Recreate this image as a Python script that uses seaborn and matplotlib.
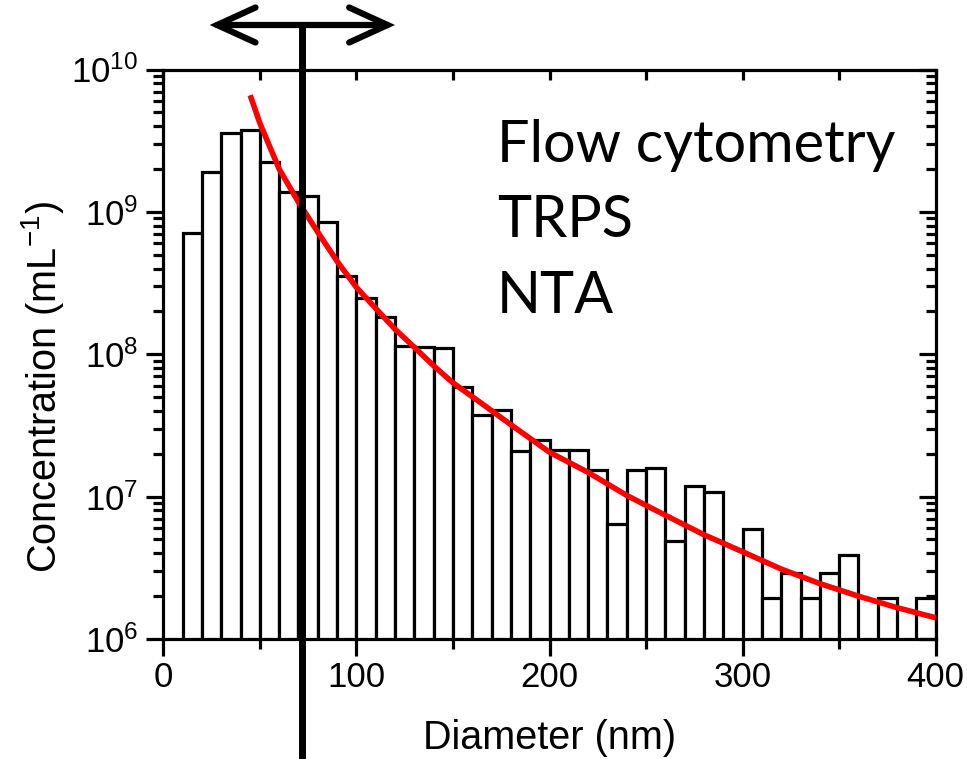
import numpy as np
import pandas as pd
import seaborn as sns
import matplotlib
matplotlib.use("Agg")
import matplotlib.pyplot as plt
import matplotlib.ticker as mticker
import matplotlib.transforms as mtransforms
from matplotlib import font_manager

# ---------------- data ----------------
bin_start = [10, 20, 30, 40, 50, 60, 70, 80, 90, 100, 110, 120, 130, 140,
             150, 160, 170, 180, 190, 200, 210, 220, 230, 240, 250, 260, 270, 280,
             300, 310, 320, 330, 340, 350, 370, 390]
concentration = [7.1e8, 1.9e9, 3.6e9, 3.75e9, 2.25e9, 1.39e9, 1.30e9, 8.5e8, 3.55e8,
                 2.5e8, 1.82e8, 1.14e8, 1.13e8, 1.10e8, 5.9e7, 3.75e7, 4.05e7, 2.1e7,
                 2.5e7, 2.13e7, 2.12e7, 1.54e7, 6.4e6, 1.54e7, 1.58e7, 4.9e6, 1.18e7,
                 1.07e7, 5.9e6, 1.95e6, 2.93e6, 1.93e6, 2.93e6, 3.92e6, 1.94e6, 1.95e6]
bin_width = 10

fit_diameter = [45, 50, 60, 70, 80, 90, 100, 110, 120, 130, 140, 150, 165, 180,
                200, 220, 240, 260, 280, 300, 320, 340, 360, 380, 400]
fit_concentration = [6.6e9, 4.2e9, 2.0e9, 1.17e9, 7.2e8, 4.5e8, 2.95e8, 2.1e8, 1.5e8,
                     1.12e8, 8.3e7, 6.3e7, 4.5e7, 3.2e7, 2.05e7, 1.48e7, 1.02e7,
                     7.4e6, 5.4e6, 4.1e6, 3.1e6, 2.45e6, 2.0e6, 1.66e6, 1.41e6]

cutoff_diameter = 71.7
arrow_span = [24, 120]

x_ticks = [0, 100, 200, 300, 400]
y_decades = [6, 7, 8, 9, 10]
method_labels = ["Flow cytometry", "TRPS", "NTA"]

# ---------------- style ----------------
sns.set_theme(style="ticks")
avail = {f.name for f in font_manager.fontManager.ttflist}
tick_font = "Liberation Sans"
big_font = "Lato" if "Lato" in avail else "Open Sans"
plt.rcParams["font.family"] = [tick_font, "DejaVu Sans"]
plt.rcParams["mathtext.fontset"] = "custom"
plt.rcParams["mathtext.rm"] = tick_font
plt.rcParams["mathtext.it"] = tick_font
plt.rcParams["mathtext.bf"] = tick_font

W, H = 967, 759
fig = plt.figure(figsize=(W / 100, H / 100), dpi=100)
L, R, T, B = 163.3, 935.7, 69.5, 639.0
ax = fig.add_axes([L / W, 1 - B / H, (R - L) / W, (B - T) / H])

df = pd.DataFrame({"center": [s + bin_width / 2 for s in bin_start],
                   "conc": concentration})
sns.histplot(data=df, x="center", weights="conc", binwidth=bin_width,
             binrange=(10, 400), ax=ax,
             color="white", edgecolor="black", linewidth=2.3, alpha=1.0)
ax.set_yscale("log")

fit_df = pd.DataFrame({"d": fit_diameter, "c": fit_concentration})
sns.lineplot(data=fit_df, x="d", y="c", ax=ax, color="#ff0000", linewidth=4.0,
             solid_capstyle="butt", zorder=5)

ax.set_xlim(0, 400)
ax.set_ylim(1e6, 1e10)

LW = 2.3
for s in ax.spines.values():
    s.set_linewidth(LW)
    s.set_color("black")
    s.set_visible(True)

ax.xaxis.set_major_locator(mticker.FixedLocator(x_ticks))
ax.xaxis.set_minor_locator(mticker.MultipleLocator(50))
ax.yaxis.set_major_locator(mticker.FixedLocator([10.0 ** d for d in y_decades]))
ax.yaxis.set_minor_locator(mticker.LogLocator(base=10, subs=range(2, 10), numticks=20))
ax.yaxis.set_minor_formatter(mticker.NullFormatter())
ax.yaxis.set_major_formatter(mticker.FuncFormatter(
    lambda v, p: r"$\mathregular{10^{%d}}$" % int(round(np.log10(v)))))
ax.tick_params(axis="both", which="major", direction="out", length=12, width=LW,
               labelsize=25, color="black", labelcolor="black")
ax.tick_params(axis="both", which="minor", direction="out", length=7, width=LW,
               color="black")
ax.tick_params(axis="x", which="major", pad=4)
ax.tick_params(axis="y", which="major", pad=6)

ax.set_xlabel("Diameter (nm)", fontsize=28.5, color="black")
ax.xaxis.label.set_va("baseline")
ax.xaxis.set_label_coords(0.5, -(749 - B) / (B - T))
ax.set_ylabel(r"Concentration (mL$^{\mathregular{-1}}$)", fontsize=28.5,
              color="black")
ax.yaxis.set_label_coords((66 - L) / (R - L), 1 - (387 - T) / (B - T))

# mirrored axes with inward ticks
axt = ax.twiny()
axt.set_xlim(ax.get_xlim())
axt.xaxis.set_major_locator(mticker.MultipleLocator(50))
axt.tick_params(axis="x", which="major", direction="in", length=7, width=LW,
                labeltop=False, top=True, color="black")
axr = ax.twinx()
axr.set_yscale("log")
axr.set_ylim(ax.get_ylim())
axr.yaxis.set_major_locator(mticker.FixedLocator([10.0 ** d for d in y_decades]))
axr.yaxis.set_minor_locator(mticker.LogLocator(base=10, subs=range(2, 10), numticks=20))
axr.yaxis.set_major_formatter(mticker.NullFormatter())
axr.yaxis.set_minor_formatter(mticker.NullFormatter())
axr.tick_params(axis="y", which="major", direction="in", length=12, width=LW,
                color="black")
axr.tick_params(axis="y", which="minor", direction="in", length=7, width=LW,
                color="black")
for a in (axt, axr):
    for s in a.spines.values():
        s.set_visible(False)
    a.grid(False)
ax.grid(False)

# cutoff line and double arrow
blend = mtransforms.blended_transform_factory(ax.transData, ax.transAxes)
y_arrow = 1 + (T - 25) / (B - T)
y_bottom = -(H - B) / (B - T) - 0.01
ax.plot([cutoff_diameter, cutoff_diameter], [y_bottom, y_arrow], transform=blend,
        color="black", lw=5.0, clip_on=False, zorder=6, solid_capstyle="butt")
ax.annotate("", xy=(arrow_span[0], y_arrow), xytext=(arrow_span[1], y_arrow),
            xycoords=blend, textcoords=blend,
            arrowprops=dict(arrowstyle="<->,head_length=2.3,head_width=1.05",
                            lw=4.5, color="black", shrinkA=0, shrinkB=0,
                            capstyle="round", joinstyle="miter"),
            annotation_clip=False, zorder=6)

# method labels
for i, lab in enumerate(method_labels):
    fig.text(496.7 / W, 1 - (161.7 + i * 75.7) / H, lab, fontsize=41.5,
             family=[big_font, "DejaVu Sans"], va="baseline", ha="left", color="black")

fig.savefig("out.png", dpi=100, facecolor="white")
